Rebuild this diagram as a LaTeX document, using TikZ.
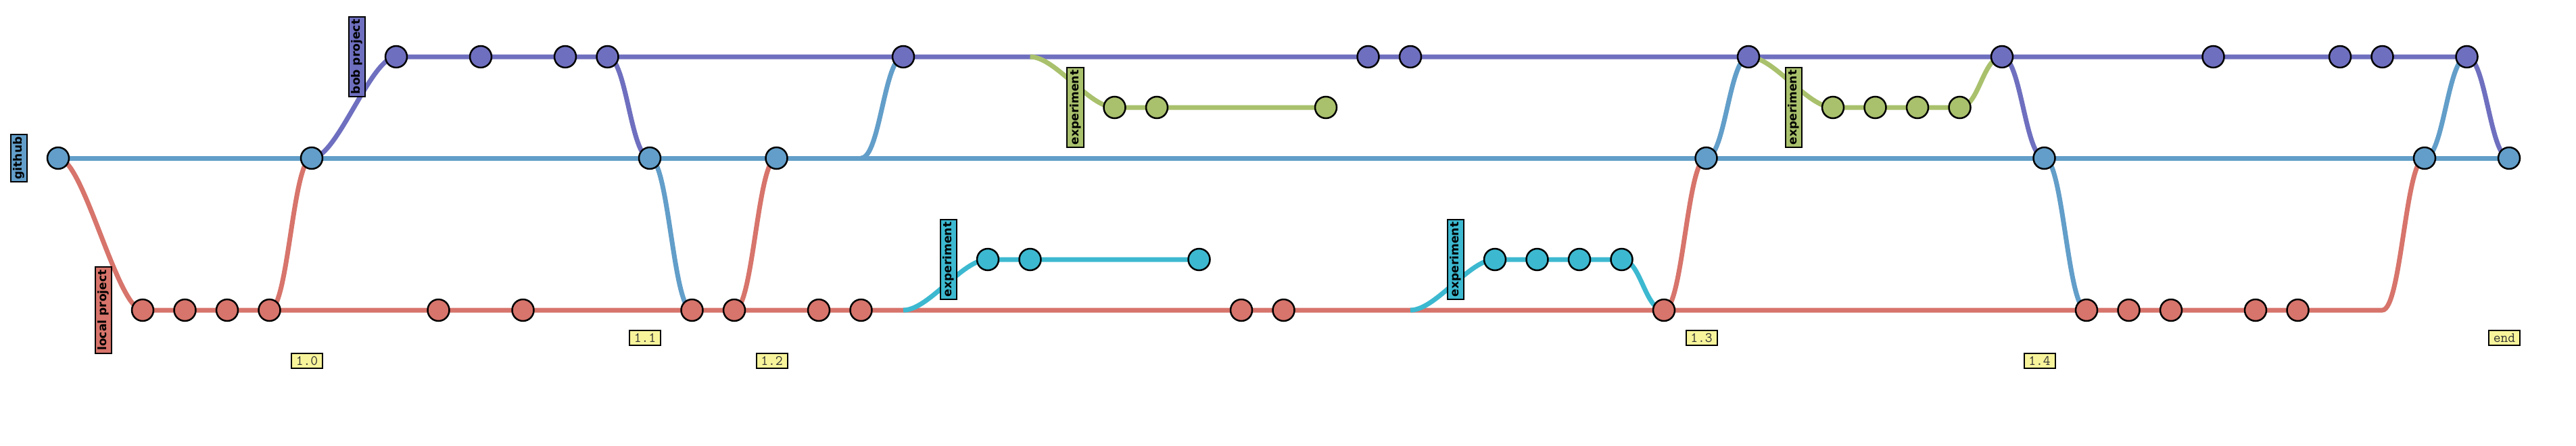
\documentclass[tikz,border=0pt]{standalone}
\usepackage{fontspec}
\newfontfamily\lblfont{DejaVu Sans}
\usetikzlibrary{backgrounds}
\definecolor{cbob}{HTML}{6F6FC0}
\definecolor{cgit}{HTML}{629EC9}
\definecolor{clocal}{HTML}{D7746B}
\definecolor{cgreen}{HTML}{A9C16C}
\definecolor{ccyan}{HTML}{3CB9D0}
\definecolor{ctag}{HTML}{F7F49B}
\tikzset{
  commit/.style={circle, draw=black, line width=2.5bp, minimum size=32bp, inner sep=0pt},
  branchline/.style={line width=7bp},
  blabel/.style={draw=black, line width=2bp, rotate=90, inner xsep=4bp, inner ysep=0pt,
    minimum height=24.7bp, font=\lblfont\bfseries\fontsize{17.1bp}{20bp}\selectfont, text=black},
  vtag/.style={draw=black, line width=2bp, fill=ctag, minimum width=46bp, minimum height=22bp,
    inner sep=0pt, font=\ttfamily\fontsize{21bp}{24bp}\selectfont, text=black!80},
}
\begin{document}
\begin{tikzpicture}[x=62.5bp, y=-75bp]
\useasboundingbox (-1.376,-1.12) rectangle (59.584,7.68);
% commits
\foreach \k in {0,6,14,17,39,47,56,58} \node[commit, fill=cgit] (g\k) at (\k,2) {};
\foreach \k in {8,10,12,13,20,31,32,40,46,51,54,55,57} \node[commit, fill=cbob] (b\k) at (\k,0) {};
\foreach \k in {2,3,4,5,9,11,15,16,18,19,28,29,38,48,49,50,52,53} \node[commit, fill=clocal] (l\k) at (\k,5) {};
\foreach \k in {25,26,30,42,43,44,45} \node[commit, fill=cgreen] (gr\k) at (\k,1) {};
\foreach \k in {22,23,27,34,35,36,37} \node[commit, fill=ccyan] (c\k) at (\k,4) {};
% branch points on lines
\coordinate (b23) at (23,0);
\coordinate (l20) at (20,5);
\coordinate (l32) at (32,5);
\coordinate (g19) at (19,2);
\coordinate (l55) at (55,5);
% labels
\node[blabel, fill=cgit] (lgit) at (-0.93,2) {github};
\node[blabel, fill=clocal] (lloc) at (1.07,5) {local project};
\node[blabel, fill=cbob] (lbob) at (7.07,0) {bob project};
\node[blabel, fill=cgreen] (lgr1) at (24.07,1) {experiment};
\node[blabel, fill=ccyan] (lcy1) at (21.07,4) {experiment};
\node[blabel, fill=ccyan] (lcy2) at (33.07,4) {experiment};
\node[blabel, fill=cgreen] (lgr2) at (41.07,1) {experiment};
% tags
\node[vtag] (t10) at (5.888,6) {1.0};
\node[vtag] (t11) at (13.888,5.547) {1.1};
\node[vtag] (t12) at (16.888,6) {1.2};
\node[vtag] (t13) at (38.888,5.547) {1.3};
\node[vtag] (t14) at (46.888,6) {1.4};
\node[vtag] (tend) at (57.888,5.547) {end};
\begin{scope}[on background layer]
\fill[white] (-1.376,-1.12) rectangle (59.584,7.68);
% main lines
\draw[branchline, cgit] (g0.center) -- (g58.center);
\draw[branchline, cbob] (g6.center) .. controls +(0.6,0) and +(-0.6,0) .. (b8.center) -- (b57.center);
\draw[branchline, clocal] (g0.center) .. controls +(0.6,0) and +(-0.6,0) .. (l2.center) -- (l55)
   .. controls +(0.45,0) and +(-0.45,0) .. (g56.center);
\draw[branchline, cgreen] (b23) .. controls +(0.6,0) and +(-0.6,0) .. (gr25.center) -- (gr30.center);
\draw[branchline, cgreen] (b40.center) .. controls +(0.6,0) and +(-0.6,0) .. (gr42.center) -- (gr45.center)
   .. controls +(0.45,0) and +(-0.45,0) .. (b46.center);
\draw[branchline, ccyan] (l20) .. controls +(0.6,0) and +(-0.6,0) .. (c22.center) -- (c27.center);
\draw[branchline, ccyan] (l32) .. controls +(0.6,0) and +(-0.6,0) .. (c34.center) -- (c37.center)
   .. controls +(0.45,0) and +(-0.45,0) .. (l38.center);
% merges
\draw[branchline, clocal] (l5.center) .. controls +(0.45,0) and +(-0.45,0) .. (g6.center);
\draw[branchline, clocal] (l16.center) .. controls +(0.45,0) and +(-0.45,0) .. (g17.center);
\draw[branchline, clocal] (l38.center) .. controls +(0.45,0) and +(-0.45,0) .. (g39.center);
\draw[branchline, cbob] (b13.center) .. controls +(0.45,0) and +(-0.45,0) .. (g14.center);
\draw[branchline, cbob] (b46.center) .. controls +(0.45,0) and +(-0.45,0) .. (g47.center);
\draw[branchline, cbob] (b57.center) .. controls +(0.45,0) and +(-0.45,0) .. (g58.center);
\draw[branchline, cgit] (g14.center) .. controls +(0.45,0) and +(-0.45,0) .. (l15.center);
\draw[branchline, cgit] (g19) .. controls +(0.45,0) and +(-0.45,0) .. (b20.center);
\draw[branchline, cgit] (g39.center) .. controls +(0.45,0) and +(-0.45,0) .. (b40.center);
\draw[branchline, cgit] (g47.center) .. controls +(0.45,0) and +(-0.45,0) .. (l48.center);
\draw[branchline, cgit] (g56.center) .. controls +(0.45,0) and +(-0.45,0) .. (b57.center);
\end{scope}
\end{tikzpicture}
\end{document}
